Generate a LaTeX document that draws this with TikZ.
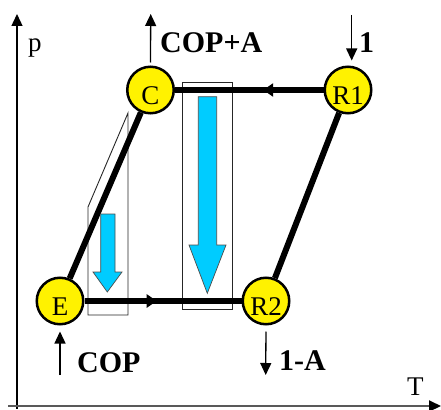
\documentclass[tikz,border=0pt]{standalone}
\usepackage{fontspec}
\setmainfont{Liberation Serif}
\usetikzlibrary{arrows.meta,decorations.markings}
\definecolor{flowblue}{HTML}{00CCFF}
\begin{document}
\begin{tikzpicture}[x=1pt,y=-1pt,
  state/.style={circle,draw=black,line width=2.5pt,fill=yellow,minimum size=46.5pt,inner sep=0pt,
    font=\fontsize{27}{27}\selectfont,text height=29pt,text depth=0pt},
  cyc/.style={line width=6pt},
  flow/.style={line width=1.3pt,-{Triangle[length=12pt,width=11pt]}},
  lbl/.style={font=\fontsize{30}{30}\selectfont\bfseries,inner sep=0pt,anchor=base west},
  axlbl/.style={font=\fontsize{27}{27}\selectfont,inner sep=0pt,anchor=base west},
  thinbox/.style={draw=black!85,line width=0.9pt},
  bluearrow/.style={fill=flowblue,draw=black!70,line width=0.7pt},
  midarrow/.style={decoration={markings,mark=at position #1 with {\arrow{Triangle[length=10pt,width=13pt]}}},postaction=decorate}]
\useasboundingbox (0,0) rectangle (441,409);

% axes
\coordinate (ybot) at (17,409);
\coordinate (ytop) at (17,14);
\coordinate (xleft) at (8,406);
\coordinate (xright) at (441,406);
\draw[line width=1.3pt,-{Triangle[length=12pt,width=11pt]}] (ybot) -- (ytop);
\draw[line width=2pt,black!65,-{Triangle[length=12pt,width=11pt,fill=black,color=black]}] (xleft) -- (xright);
\node[axlbl] (plbl) at (28,51.5) {p};
\node[axlbl] (tlbl) at (407,395) {T};

% thin outline boxes
\draw[thinbox] (182.5,82) rectangle (232.5,309.5);
\draw[thinbox] (128,113) -- (88,207) -- (88,315) -- (128,315) -- cycle;

% states
\node[state] (C) at (150.5,90) {C};
\node[state] (R1) at (348,90) {R1};
\node[state] (E) at (60,301) {E};
\node[state] (R2) at (266,301) {R2};

% cycle
\draw[cyc,midarrow=0.406] (R1) -- (C);
\draw[cyc] (C) -- (E);
\draw[cyc,midarrow=0.46] (E) -- (R2);
\draw[cyc] (R2) -- (R1);

% blue arrows
\draw[bluearrow] (198.3,96.7) -- (216.7,96.7) -- (216.7,245) -- (226,245) -- (207.3,293.3) -- (189,245) -- (198.3,245) -- cycle;
\draw[bluearrow] (100.7,214) -- (115,214) -- (115,272) -- (122,272) -- (107.3,292) -- (93,272) -- (100.7,272) -- cycle;

% flows
\coordinate (copA) at (150.7,14);
\coordinate (in1) at (351.7,15);
\coordinate (copE) at (60,375);
\coordinate (outA) at (265.7,375);
\draw[flow,shorten <=3pt] (C.north) -- (copA);
\draw[flow,shorten >=5pt] (in1) -- (in1 |- R1.north);
\draw[flow,shorten >=6pt] (copE) -- (E.south);
\draw[flow,shorten <=6pt] (R2.south) -- (outA);

% labels
\node[lbl] (lcopa) at (160,53) {COP+A};
\node[lbl] (l1) at (359,53) {1};
\node[lbl] (lcop) at (77,372) {COP};
\node[lbl] (l1a) at (279,370) {1-A};
\end{tikzpicture}
\end{document}
